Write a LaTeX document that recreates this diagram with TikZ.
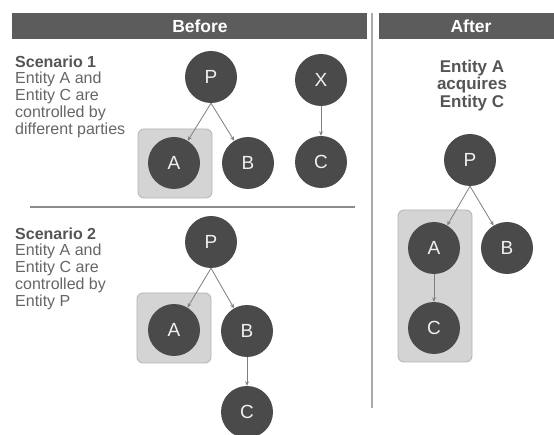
\documentclass[tikz,border=0pt]{standalone}
\usepackage{fontspec}
\setmainfont{Liberation Sans}
\usetikzlibrary{arrows.meta}
\definecolor{hdrgray}{HTML}{5C5C5C}
\definecolor{circgray}{HTML}{4A4A4A}
\definecolor{boxfill}{HTML}{D4D4D4}
\definecolor{boxline}{HTML}{B3B3B3}
\definecolor{bodytext}{HTML}{666666}
\definecolor{boldtext}{HTML}{555555}
\definecolor{arrowgray}{HTML}{7F7F7F}
\definecolor{rulegray}{HTML}{8C8C8C}
\definecolor{vrulegray}{HTML}{ABABAB}
\begin{document}
\begin{tikzpicture}[x=1pt,y=-1pt,
  hdr/.style={fill=hdrgray, draw=none, minimum height=26pt, inner sep=0pt},
  hdrtext/.style={text=white, font=\fontsize{17.5}{20}\selectfont\bfseries, inner sep=0pt},
  ent/.style={circle, fill=circgray, draw=none, minimum size=52pt, inner sep=0pt,
    text=white!94!black, font=\fontsize{19}{21}\selectfont},
  hlbox/.style={rectangle, rounded corners=6pt, fill=boxfill, draw=boxline, line width=0.8pt, inner sep=0pt},
  desc/.style={anchor=north west, align=left, inner sep=0pt, text=bodytext,
    font=\fontsize{16}{16.7}\selectfont},
  arr/.style={draw=arrowgray, line width=0.8pt, -{Stealth[length=4.5pt,width=4pt]}}
]
\useasboundingbox (0,0) rectangle (554,435);
\fill[white] (0,0) rectangle (554,435);

% headers
\node[hdr, minimum width=355pt] (hb) at (189.5,26) {};
\node[hdrtext] (hbt) at (200,26.5) {Before};
\node[hdr, minimum width=175pt] (ha) at (466.5,26) {};
\node[hdrtext] (hat) at (471,26.5) {After};

% rules
\coordinate (vt) at (372,13);
\coordinate (vb) at (372,408);
\draw[vrulegray, line width=1.3pt] (vt) -- (vb);
\coordinate (hl) at (30,207);
\coordinate (hr) at (355,207);
\draw[rulegray, line width=1.8pt] (hl) -- (hr);

% scenario texts
\node[desc] (s1) at (15,55.5) {\textbf{\textcolor{boldtext}{Scenario 1}}\\Entity A and\\Entity C are\\controlled by\\different parties};
\node[desc] (s2) at (15,227.5) {\textbf{\textcolor{boldtext}{Scenario 2}}\\Entity A and\\Entity C are\\controlled by\\Entity P};
\node[anchor=north, align=center, inner sep=0pt, text=boldtext,
  font=\fontsize{17}{17.6}\selectfont\bfseries] (aft) at (472,59.5) {Entity A\\acquires\\Entity C};

% highlight boxes
\node[hlbox, minimum width=74pt, minimum height=69pt] (box1) at (175,163.5) {};
\node[hlbox, minimum width=74pt, minimum height=70pt] (box2) at (174,328) {};
\node[hlbox, minimum width=74pt, minimum height=152pt] (box3) at (435,286) {};

% scenario 1
\node[ent] (P1) at (211,77) {P};
\node[ent] (A1) at (174,163) {A};
\node[ent] (B1) at (248,163) {B};
\node[ent] (X1) at (321,80) {X};
\node[ent] (C1) at (321,162) {C};
\draw[arr] (P1.south) -- (A1);
\draw[arr] (P1.south) -- (B1);
\draw[arr] (X1) -- (C1);

% scenario 2
\node[ent] (P2) at (211,242) {P};
\node[ent] (A2) at (174,330) {A};
\node[ent] (B2) at (247,331) {B};
\node[ent] (C2) at (247,412) {C};
\draw[arr] (P2.south) -- (A2);
\draw[arr] (P2.south) -- (B2);
\draw[arr] (B2) -- (C2);

% after
\node[ent] (P3) at (470,160) {P};
\node[ent] (A3) at (434,248) {A};
\node[ent] (B3) at (507,248) {B};
\node[ent] (C3) at (434,328) {C};
\draw[arr] (P3.south) -- (A3);
\draw[arr] (P3.south) -- (B3);
\draw[arr] (A3) -- (C3);
\end{tikzpicture}
\end{document}
